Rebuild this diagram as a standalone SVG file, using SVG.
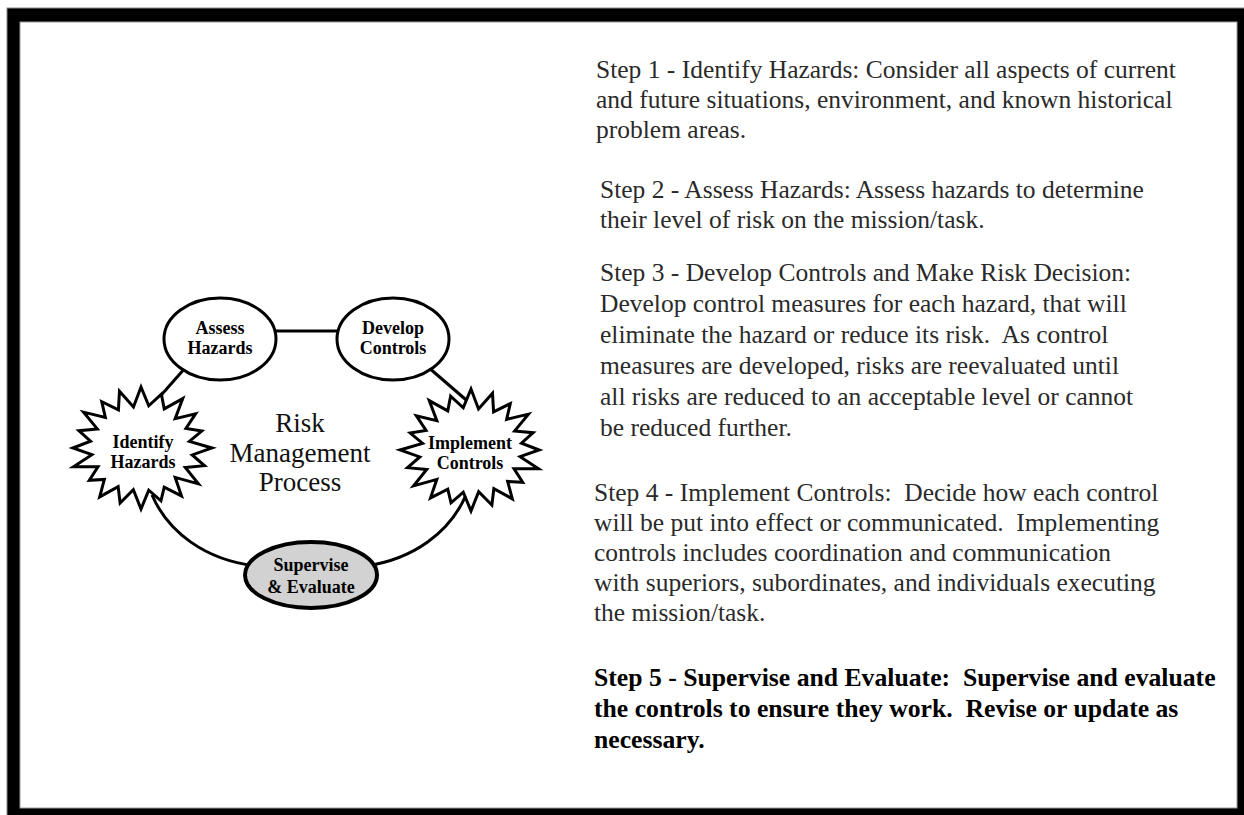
<svg xmlns="http://www.w3.org/2000/svg" xmlns:xlink="http://www.w3.org/1999/xlink" width="1244" height="815" viewBox="0 0 1244 815">
  <style>
    .node { fill: #ffffff; stroke: #000000; stroke-width: 3; }
    .sup { fill: #d2d2d2; stroke: #000000; stroke-width: 4; }
    .link { fill: none; stroke: #000000; stroke-width: 3; }
    .lbl { font-family: "Liberation Serif", "Times New Roman", serif; font-weight: bold; font-size: 18px; fill: #000000; text-anchor: middle; }
    .title { font-family: "Liberation Serif", "Times New Roman", serif; font-size: 27px; fill: #111111; text-anchor: middle; }
    .body { font-family: "Liberation Serif", "Times New Roman", serif; font-size: 25.5px; fill: #2a2a2a; }
    .bold { font-family: "Liberation Serif", "Times New Roman", serif; font-size: 25.7px; font-weight: bold; fill: #000000; }
  </style>
  <defs>
    <!-- 20-point starburst, radius 100 units, scaled per node -->
    <polygon id="burst" class="node" vector-effect="non-scaling-stroke" stroke-linejoin="miter"
      points="0,-100 10.9,-69.2 28.7,-88.4 32.7,-64.2 58.8,-80.9 48.1,-48.1 76.9,-55.9 63.3,-32.2 85.6,-27.8 68.2,-10.8 100,0 72.1,11.4 89.4,29 62.4,31.8 80.9,58.8 48.1,48.1 57,78.5 32.7,64.2 28.1,86.5 10.9,69.2 0,100 -10.8,68.2 -29.4,90.3 -32.2,63.3 -58.2,80.1 -51.6,51.6 -72.8,52.9 -60.6,30.9 -95.1,30.9 -69.2,10.9 -96,0 -71.1,-11.2 -87.5,-28.4 -61.5,-31.3 -80.9,-58.8 -50.2,-50.2 -55.3,-76 -31.8,-62.4 -30.3,-93.2 -10.6,-67.2"/>
  </defs>

  <!-- page frame -->
  <rect x="7" y="8" width="1240" height="810" fill="#000000" stroke="#8a8a8a" stroke-width="1"/>
  <rect x="20" y="22" width="1217" height="786" fill="#ffffff" stroke="#9a9a9a" stroke-width="1"/>

  <!-- connectors -->
  <g id="connectors">
    <line class="link" x1="268" y1="331" x2="344" y2="331"/>
    <line class="link" x1="186" y1="367" x2="148" y2="410"/>
    <line class="link" x1="428" y1="367" x2="472" y2="405"/>
    <path class="link" d="M 152 495 C 168 532, 205 560, 256 566"/>
    <path class="link" d="M 466 495 C 450 532, 414 559, 366 566"/>
  </g>

  <g id="assess">
    <ellipse class="node" cx="220" cy="339" rx="56" ry="41"/>
    <text class="lbl" x="220" y="334">Assess</text>
    <text class="lbl" x="220" y="354">Hazards</text>
  </g>

  <g id="develop">
    <ellipse class="node" cx="393" cy="339" rx="56" ry="41"/>
    <text class="lbl" x="393" y="334">Develop</text>
    <text class="lbl" x="393" y="354">Controls</text>
  </g>

  <g id="identify">
    <use xlink:href="#burst" transform="translate(141,448) scale(0.71,0.61)"/>
    <text class="lbl" x="143" y="448">Identify</text>
    <text class="lbl" x="143" y="468">Hazards</text>
  </g>

  <g id="implement">
    <use xlink:href="#burst" transform="translate(471,450) scale(-0.71,0.61)"/>
    <text class="lbl" x="470" y="449">Implement</text>
    <text class="lbl" x="470" y="469">Controls</text>
  </g>

  <g id="supervise">
    <ellipse class="sup" cx="311" cy="575" rx="66" ry="33"/>
    <text class="lbl" x="311" y="571">Supervise</text>
    <text class="lbl" x="311" y="593">&amp; Evaluate</text>
  </g>

  <g id="center-title">
    <text class="title" x="300" y="432">Risk</text>
    <text class="title" x="300" y="462">Management</text>
    <text class="title" x="300" y="491">Process</text>
  </g>

  <!-- step descriptions -->
  <g id="step1">
    <text class="body" x="596" y="78">Step 1 - Identify Hazards: Consider all aspects of current</text>
    <text class="body" x="596" y="108">and future situations, environment, and known historical</text>
    <text class="body" x="596" y="138">problem areas.</text>
  </g>
  <g id="step2">
    <text class="body" x="600" y="198">Step 2 - Assess Hazards: Assess hazards to determine</text>
    <text class="body" x="600" y="228">their level of risk on the mission/task.</text>
  </g>
  <g id="step3">
    <text class="body" x="600" y="281">Step 3 - Develop Controls and Make Risk Decision:</text>
    <text class="body" x="600" y="312">Develop control measures for each hazard, that will</text>
    <text class="body" x="600" y="343" xml:space="preserve">eliminate the hazard or reduce its risk.  As control</text>
    <text class="body" x="600" y="374">measures are developed, risks are reevaluated until</text>
    <text class="body" x="600" y="405">all risks are reduced to an acceptable level or cannot</text>
    <text class="body" x="600" y="436">be reduced further.</text>
  </g>
  <g id="step4">
    <text class="body" x="594" y="501" xml:space="preserve">Step 4 - Implement Controls:  Decide how each control</text>
    <text class="body" x="594" y="531" xml:space="preserve">will be put into effect or communicated.  Implementing</text>
    <text class="body" x="594" y="561">controls includes coordination and communication</text>
    <text class="body" x="594" y="591">with superiors, subordinates, and individuals executing</text>
    <text class="body" x="594" y="621">the mission/task.</text>
  </g>
  <g id="step5">
    <text class="bold" x="594" y="686" xml:space="preserve">Step 5 - Supervise and Evaluate:  Supervise and evaluate</text>
    <text class="bold" x="594" y="717" xml:space="preserve">the controls to ensure they work.  Revise or update as</text>
    <text class="bold" x="594" y="748">necessary.</text>
  </g>
</svg>
